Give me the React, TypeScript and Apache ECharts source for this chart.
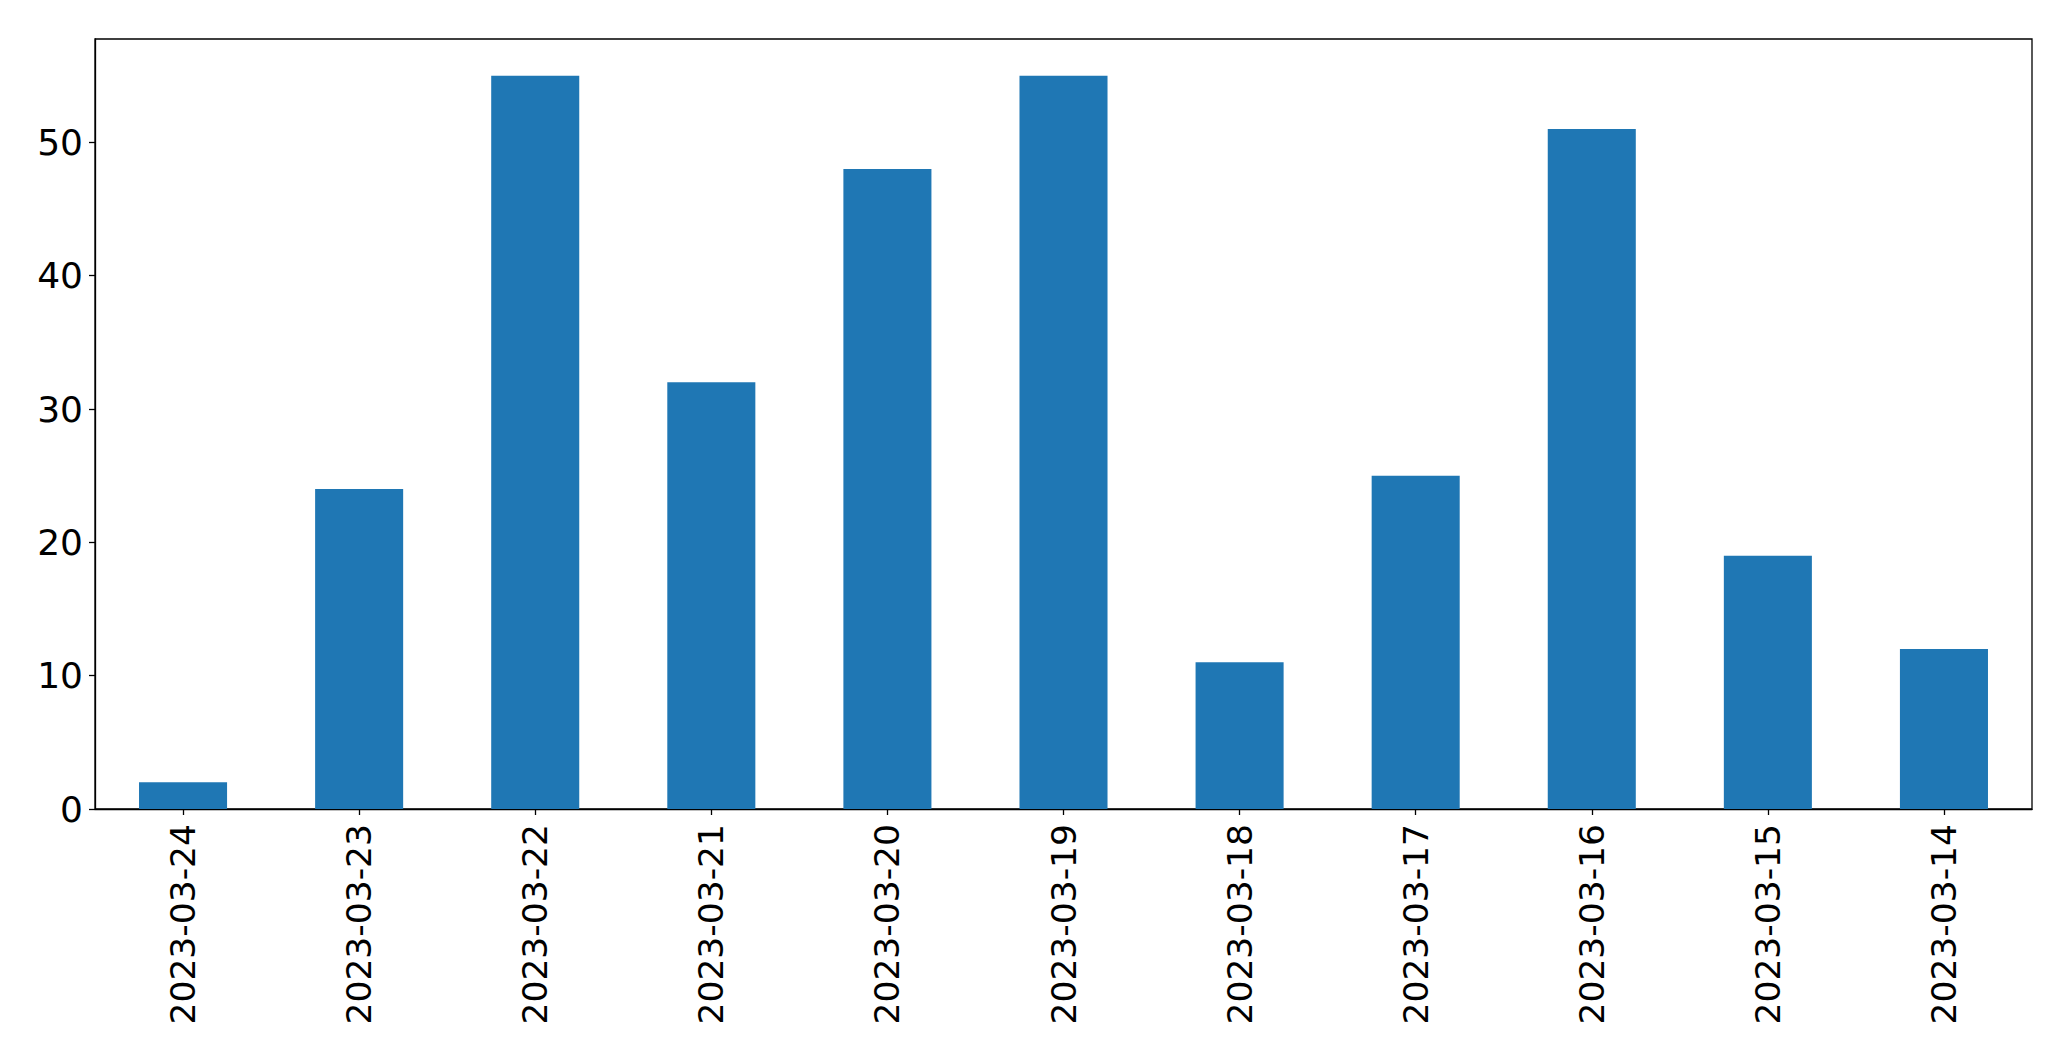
import React, { useEffect, useRef } from "react";
import * as echarts from "echarts";

const categories = [
  "2023-03-24", "2023-03-23", "2023-03-22", "2023-03-21", "2023-03-20", "2023-03-19",
  "2023-03-18", "2023-03-17", "2023-03-16", "2023-03-15", "2023-03-14",
];
const values = [2, 24, 55, 32, 48, 55, 11, 25, 51, 19, 12];
const yTicks = [0, 10, 20, 30, 40, 50];
const yMax = 57.75;

export default function App() {
  const ref = useRef<HTMLDivElement>(null);
  useEffect(() => {
    if (!ref.current) return;
    const chart = echarts.init(ref.current, null, { renderer: "svg" });
    const font = "DejaVu Sans";
    chart.setOption({
      animation: false,
      backgroundColor: "#ffffff",
      grid: {
        left: 95, top: 39, right: 39, bottom: 252,
        show: true, borderColor: "#000", borderWidth: 1.3, backgroundColor: "transparent",
      },
      xAxis: {
        type: "category",
        data: categories,
        boundaryGap: true,
        axisLine: { show: true, lineStyle: { color: "#000", width: 1.3 } },
        axisTick: { show: true, alignWithLabel: true, length: 6, lineStyle: { color: "#000", width: 1.3 } },
        axisLabel: {
          rotate: 90, interval: 0, margin: 15, fontSize: 34.5, fontFamily: font, color: "#000",
        },
        splitLine: { show: false },
      },
      yAxis: {
        type: "value",
        min: 0,
        max: yMax,
        interval: 10,
        axisLine: { show: true, lineStyle: { color: "#000", width: 1.3 } },
        axisTick: { show: true, length: 6, customValues: yTicks, lineStyle: { color: "#000", width: 1.3 } },
        axisLabel: {
          margin: 12, fontSize: 36, fontFamily: font, color: "#000", customValues: yTicks,
        },
        splitLine: { show: false },
      },
      series: [
        {
          type: "bar",
          data: values,
          barWidth: "50%",
          itemStyle: { color: "#1f77b4" },
        },
      ],
    });
    return () => chart.dispose();
  }, []);
  return (
    <div
      ref={ref}
      style={{ position: "fixed", left: 0, top: 0, width: 2071, height: 1061, background: "#fff" }}
    />
  );
}
